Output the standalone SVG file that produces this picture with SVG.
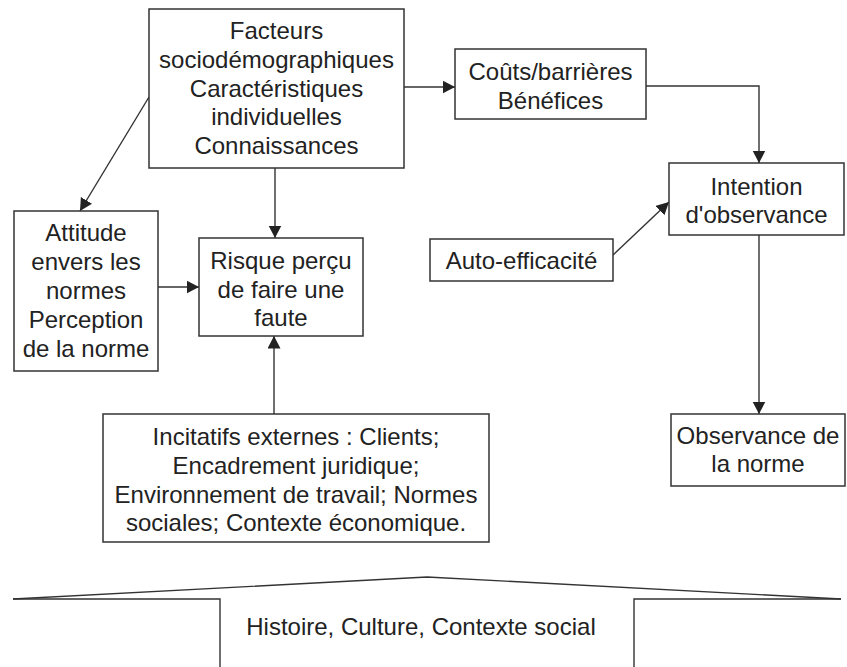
<svg xmlns="http://www.w3.org/2000/svg" width="847" height="667" viewBox="0 0 847 667">
<defs>
<style>
.box{fill:#fff;stroke:#333;stroke-width:1.5}
.t{font-family:"Liberation Sans",Arial,sans-serif;font-size:24px;fill:#222;text-anchor:middle}
.c{fill:none;stroke:#333;stroke-width:1.4}
</style>
<marker id="ah" markerUnits="userSpaceOnUse" markerWidth="13" markerHeight="14" refX="12.5" refY="6.5" orient="auto">
<path d="M0,0 L12.5,6.5 L0,13 z" fill="#222"/>
</marker>
</defs>
<rect width="847" height="667" fill="#fff"/>
<g id="connectors">
<path class="c" d="M404,87 H455" marker-end="url(#ah)"/>
<path class="c" d="M646,86 H759 V163" marker-end="url(#ah)"/>
<path class="c" d="M149,97 L80,211" marker-end="url(#ah)"/>
<path class="c" d="M275,168 V238" marker-end="url(#ah)"/>
<path class="c" d="M158,287 H199" marker-end="url(#ah)"/>
<path class="c" d="M274,414 V336" marker-end="url(#ah)"/>
<path class="c" d="M613,255 L669,202" marker-end="url(#ah)"/>
<path class="c" d="M759,235 V414" marker-end="url(#ah)"/>
</g>
<g id="facteurs">
<rect class="box" x="149" y="9" width="255" height="159"/>
<text class="t" x="276.5" y="39">Facteurs</text>
<text class="t" x="276.5" y="68">sociodémographiques</text>
<text class="t" x="276.5" y="96.5">Caractéristiques</text>
<text class="t" x="276.5" y="125">individuelles</text>
<text class="t" x="276.5" y="154">Connaissances</text>
</g>
<g id="couts">
<rect class="box" x="455" y="49" width="191" height="70"/>
<text class="t" x="550.5" y="80">Coûts/barrières</text>
<text class="t" x="550.5" y="108.5">Bénéfices</text>
</g>
<g id="intention">
<rect class="box" x="669" y="163" width="175" height="72"/>
<text class="t" x="756.5" y="194.5">Intention</text>
<text class="t" x="756.5" y="223">d'observance</text>
</g>
<g id="auto">
<rect class="box" x="430" y="239" width="183" height="42"/>
<text class="t" x="521.5" y="268.5">Auto-efficacité</text>
</g>
<g id="attitude">
<rect class="box" x="14" y="211" width="144" height="160"/>
<text class="t" x="86" y="241">Attitude</text>
<text class="t" x="86" y="270">envers les</text>
<text class="t" x="86" y="299">normes</text>
<text class="t" x="86" y="328">Perception</text>
<text class="t" x="86" y="357">de la norme</text>
</g>
<g id="risque">
<rect class="box" x="199" y="238" width="164" height="98"/>
<text class="t" x="281" y="269">Risque perçu</text>
<text class="t" x="281" y="297.5">de faire une</text>
<text class="t" x="281" y="326">faute</text>
</g>
<g id="incitatifs">
<rect class="box" x="103" y="414" width="386" height="128"/>
<text class="t" x="296" y="445">Incitatifs externes : Clients;</text>
<text class="t" x="296" y="474">Encadrement juridique;</text>
<text class="t" x="296" y="503">Environnement de travail; Normes</text>
<text class="t" x="296" y="531">sociales; Contexte économique.</text>
</g>
<g id="observance">
<rect class="box" x="671" y="414" width="174" height="72"/>
<text class="t" x="758" y="444">Observance de</text>
<text class="t" x="758" y="472">la norme</text>
</g>
<g id="histoire">
<path class="c" d="M13,599 L427,577 L841,599"/>
<path class="c" d="M13,599 H220 V667"/>
<path class="c" d="M841,599 H634 V667"/>
<text class="t" x="421" y="635">Histoire, Culture, Contexte social</text>
</g>
</svg>
